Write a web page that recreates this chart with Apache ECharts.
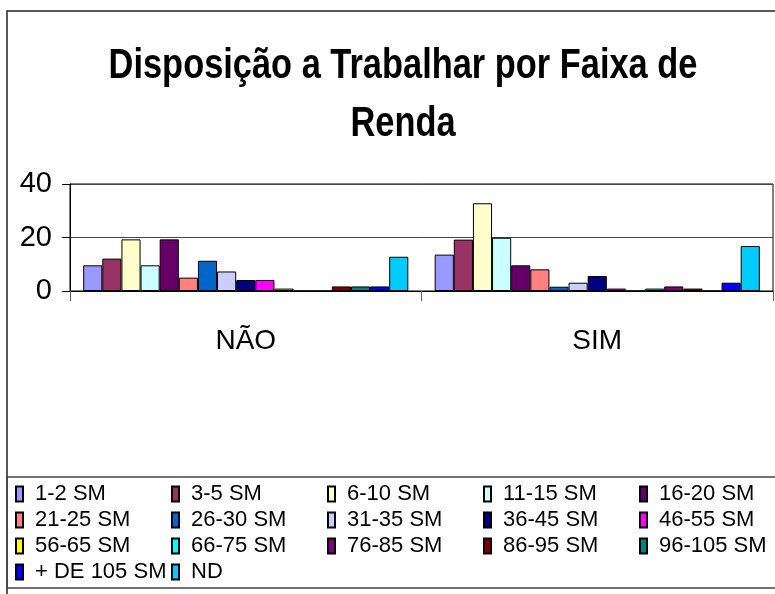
<!DOCTYPE html>
<html>
<head>
<meta charset="utf-8">
<script src="https://cdn.jsdelivr.net/npm/echarts@6/dist/echarts.min.js"></script>
<style>
  html, body { margin: 0; padding: 0; background: #fff; }
  #chart { width: 775px; height: 594px; }
</style>
</head>
<body>
<div id="chart"></div>
<script>
// categorias do eixo x
const categories = ['NÃO', 'SIM']

// faixas de renda (series)
const faixas = [
  '1-2 SM', '3-5 SM', '6-10 SM', '11-15 SM', '16-20 SM',
  '21-25 SM', '26-30 SM', '31-35 SM', '36-45 SM', '46-55 SM',
  '56-65 SM', '66-75 SM', '76-85 SM', '86-95 SM', '96-105 SM',
  '+ DE 105 SM', 'ND'
]

const naoValues = [9.6, 12.1, 19.3, 9.6, 19.3, 5.0, 11.3, 7.3, 4.1, 4.1, 0.9, 0, 0, 1.7, 1.7, 1.7, 12.8]
const simValues = [13.6, 19.2, 32.8, 19.9, 9.6, 8.1, 1.6, 3.1, 5.6, 0.9, 0, 0.9, 1.7, 0.9, 0, 3.1, 16.8]

const colors = [
  '#9999FF', '#993366', '#FFFFCC', '#CCFFFF', '#660066',
  '#FF8080', '#0066CC', '#CCCCFF', '#000080', '#FF00FF',
  '#FFFF00', '#00FFFF', '#800080', '#800000', '#008080',
  '#0000FF', '#00CCFF'
]

const yTicks = [0, 20, 40]

const titleText = 'Disposição a Trabalhar por Faixa de\nRenda'

const sans = "'Liberation Sans', Arial, sans-serif"

const series = faixas.map((name, i) => ({
  name,
  type: 'bar',
  data: [naoValues[i], simValues[i]],
  barGap: 0,
  barCategoryGap: '7.5%',
  itemStyle: { color: colors[i], borderColor: '#000', borderWidth: 1 }
}))

const chart = echarts.init(document.getElementById('chart'))
chart.setOption({
  animation: false,
  backgroundColor: '#fff',
  graphic: [
    {
      type: 'rect',
      shape: { x: 7, y: 11, width: 800, height: 620 },
      style: { fill: 'none', stroke: '#222', lineWidth: 1.5 },
      silent: true
    },
    {
      type: 'rect',
      shape: { x: 7, y: 477, width: 800, height: 111 },
      style: { fill: 'none', stroke: '#444', lineWidth: 1.5 },
      silent: true
    },
    // titulo condensado (a fonte estreita nao esta disponivel)
    {
      type: 'text',
      x: 403,
      y: 37,
      scaleX: 0.8,
      silent: true,
      style: {
        text: titleText,
        fontFamily: sans,
        fontWeight: 'bold',
        fontSize: 43,
        lineHeight: 58,
        fill: '#000',
        align: 'center',
        textAlign: 'center',
        verticalAlign: 'top',
        textVerticalAlign: 'top'
      }
    }
  ],
  legend: {
    left: 15,
    top: 483,
    width: 780,
    padding: 0,
    orient: 'horizontal',
    itemWidth: 7,
    itemHeight: 15,
    itemGap: 4,
    icon: 'rect',
    textStyle: {
      fontFamily: sans,
      fontSize: 22,
      lineHeight: 22,
      color: '#000',
      width: 132,
      padding: [0, 0, 0, 7]
    },
    data: faixas
  },
  grid: {
    left: 70,
    right: 2,
    top: 184,
    bottom: 303,
    containLabel: false,
    outerBoundsMode: 'none',
    show: true,
    borderColor: '#000',
    borderWidth: 1
  },
  xAxis: {
    type: 'category',
    data: categories,
    axisLine: { lineStyle: { color: '#000', width: 1 } },
    axisTick: { show: true, length: 10, lineStyle: { color: '#666' } },
    axisLabel: { fontFamily: sans, fontSize: 28, color: '#000', margin: 36 }
  },
  yAxis: {
    type: 'value',
    min: yTicks[0],
    max: yTicks[yTicks.length - 1],
    interval: yTicks[1] - yTicks[0],
    axisLine: { show: true, lineStyle: { color: '#000', width: 1 } },
    axisTick: { show: true, length: 8, lineStyle: { color: '#000' } },
    axisLabel: { fontFamily: sans, fontSize: 29, color: '#000', margin: 18 },
    splitLine: { lineStyle: { color: '#444', width: 1 } }
  },
  series
})
</script>
</body>
</html>
